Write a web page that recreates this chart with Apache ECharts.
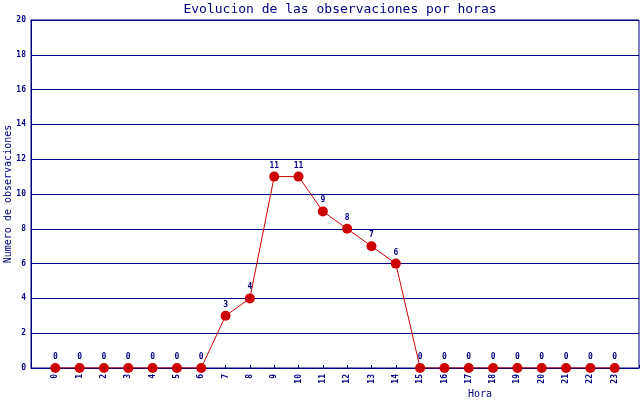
<!DOCTYPE html>
<html>
<head>
<meta charset="utf-8">
<script src="https://cdn.jsdelivr.net/npm/echarts@6/dist/echarts.min.js"></script>
<style>html,body{margin:0;padding:0;background:#fff}#c{width:640px;height:400px}</style>
</head>
<body>
<div id="c"></div>
<script>
var hours = [0,1,2,3,4,5,6,7,8,9,10,11,12,13,14,15,16,17,18,19,20,21,22,23];
var counts = [0,0,0,0,0,0,0,3,4,11,11,9,8,7,6,0,0,0,0,0,0,0,0,0];
var yTicks = [0,2,4,6,8,10,12,14,16,18,20];
var titleText = 'Evolucion de las observaciones por horas';
var xName = 'Hora';
var yName = 'Numero de observaciones';

var navy = '#000080';
var red = '#cc0000';
var mono = 'DejaVu Sans Mono';
var chart = echarts.init(document.getElementById('c'), null, {renderer: 'canvas'});
chart.setOption({
  animation: false,
  backgroundColor: '#ffffff',
  title: {
    text: titleText,
    left: 335, top: -2, textAlign: 'center',
    textStyle: {color: navy, fontFamily: mono, fontSize: 13, fontWeight: 'normal'}
  },
  grid: {left: 31, right: 1, top: 20, bottom: 32, containLabel: false, outerBoundsMode: 'none',
         show: true, borderColor: navy, borderWidth: 1, backgroundColor: 'transparent'},
  xAxis: {
    type: 'value', min: -1, max: 24, interval: 1,
    name: xName, nameLocation: 'middle', nameGap: 21, nameMoveOverlap: false,
    nameTextStyle: {color: navy, fontFamily: mono, fontSize: 10, padding: [0, 0, 0, 290]},
    axisLine: {show: true, onZero: false, lineStyle: {color: navy, width: 1}},
    axisTick: {show: true, inside: true, length: 3, lineStyle: {color: navy}},
    splitLine: {show: false},
    axisLabel: {
      rotate: 90, margin: 6, color: navy, fontFamily: mono, fontSize: 8, fontWeight: 'bold',
      formatter: function (v) { return hours.indexOf(v) >= 0 ? String(v) : ''; }
    }
  },
  yAxis: {
    type: 'value', min: yTicks[0], max: yTicks[yTicks.length - 1], interval: 2,
    name: yName, nameLocation: 'middle', nameGap: 18, nameMoveOverlap: false,
    nameTextStyle: {color: navy, fontFamily: mono, fontSize: 10},
    axisLine: {show: true, onZero: false, lineStyle: {color: navy, width: 1}},
    axisTick: {show: false},
    splitLine: {show: true, lineStyle: {color: navy, width: 1}},
    axisLabel: {margin: 5, color: navy, fontFamily: mono, fontSize: 8, fontWeight: 'bold'}
  },
  series: [{
    type: 'line',
    data: hours.map(function (h, i) { return [h, counts[i]]; }),
    lineStyle: {color: red, width: 1},
    itemStyle: {color: red},
    symbol: 'circle', symbolSize: 10,
    label: {
      show: true, position: 'top', distance: 2, color: navy,
      fontFamily: mono, fontSize: 8, fontWeight: 'bold',
      formatter: function (p) { return String(p.value[1]); }
    }
  }]
});
</script>
</body>
</html>
